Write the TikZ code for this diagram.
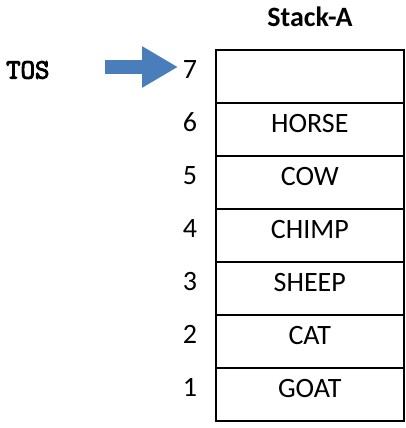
\documentclass[tikz,border=0pt]{standalone}
\usepackage{fontspec}
\setmainfont{Carlito}
\newfontfamily\tosfont[FakeBold=3.5]{Latin Modern Mono}
\usetikzlibrary{arrows.meta,calc}
\definecolor{arrowblue}{HTML}{4A7EBB}
\begin{document}
\begin{tikzpicture}[x=1pt,y=-1pt,
  cell/.style={draw,line width=1.6pt,minimum width=188pt,minimum height=53pt,inner sep=0pt,anchor=north west},
  celltext/.style={font=\fontsize{28}{30}\selectfont,inner sep=0pt},
  numtext/.style={font=\fontsize{28}{30}\selectfont,inner sep=0pt}]
\useasboundingbox (0,0) rectangle (406,428);
\foreach \i/\t [count=\k from 0] in {7/,6/HORSE,5/COW,4/CHIMP,3/SHEEP,2/CAT,1/GOAT}{
  \node[cell] (r\i) at (215,{49+53*\k}) {};
  \node[celltext] (t\i) at ($(r\i.center)+(0,-6)$) {\t};
  \node[numtext] (n\i) at (190,{49+53*\k+26.5-6}) {\i};
}
\node[font=\fontsize{28}{30}\selectfont\bfseries,inner sep=0pt] (title) at (310,17) {Stack-A};
\node[font=\tosfont\fontsize{28}{30}\selectfont,inner sep=0pt,anchor=west] (tos) at (6,70) {TOS};
\coordinate (as) at (105,67);
\coordinate (at) at (178,67);
\draw[arrowblue,line width=13.5pt,-{Triangle[width=39pt,length=36pt]}] (as) -- (at);
\end{tikzpicture}
\end{document}
